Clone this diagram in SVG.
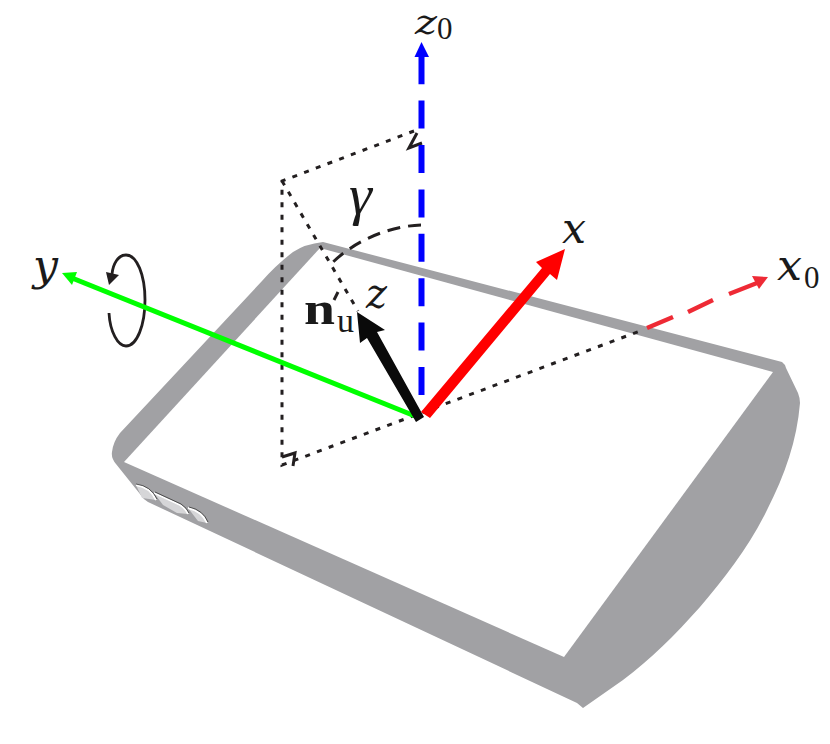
<svg xmlns="http://www.w3.org/2000/svg" width="830" height="744" viewBox="0 0 830 744">
<style>
.dot{fill:none;stroke:#231f20;stroke-width:3;stroke-dasharray:5 7.500}
.dash{fill:none;stroke:#231f20;stroke-width:3;stroke-dasharray:13 8}
.solid{fill:none;stroke:#231f20;stroke-width:3}
.btn{fill:#d6d6d8;stroke:none}
.btnw{fill:none;stroke:#fff;stroke-width:1.800}
.btnl{fill:none;stroke:#333;stroke-width:0.800}
text{font-family:"Liberation Serif","Times New Roman",serif;fill:#1a1a1a}
.m{font-family:"DejaVu Serif","Liberation Serif",serif;font-style:italic;font-weight:normal;font-size:42px}
.s{font-size:31px}
</style>
<rect width="830" height="744" fill="#fff"/>
<g id="device">
<path fill="#a1a1a4" d="M323 242 L782 362 Q785 364 786 368 L798 393 Q800 398 800 403 C797 440 785 475 767 510 C750 545 725 578 700 607 C675 635 650 660 623 680 L583 708 L577 703 L148 502 Q143 499 140 494 L116 464 Q111 458 112 452 Q113 442 120 433 L262 281 Q276 265 293 252 Q305 244 323 242 Z"/>
<path fill="#fff" d="M320 248 L773 372 L564 657 L124 462 Z"/>
<path class="btn" d="M136 485 Q150 487 156 500 L142 498 Z"/>
<path class="btn" d="M154 493 L180 505 Q186 509 188 514 L177 513 L163 505 Z"/>
<path class="btn" d="M188 508 Q202 511 207 523 L198 521 Z"/>
<path class="btnw" d="M136 485 Q150 487 156 500 M154 493 L180 505 Q186 509 188 514 M188 508 Q202 511 207 523"/>
<path class="btnl" d="M136 484 Q151 486 157 499 M155 492 L181 504 Q187 508 189 513 M189 507 Q203 510 208 522"/>
</g>
<g id="connectors">
<path class="dot" d="M414 131 L282 181 L282 465 L640 331"/>
<path class="dot" d="M282 181 L358 311"/>
<path class="solid" d="M417 133 L409 148 L422 143"/>
<path class="solid" d="M282 457 L295 453 L293 466"/>
<path class="dash" d="M421 225 C390 226 355 240 331 264"/>
<path class="solid" d="M338 292 L334 300"/>
<path d="M421.500 395 V57" fill="none" stroke="#0000ff" stroke-width="6" stroke-dasharray="28 16.400"/>
<path fill="#0000ff" d="M421.500 42 L429 57 L414.500 57 Z"/>
<path fill="none" stroke="#231f20" stroke-width="2.800" d="M109 313 C110 332 118 346 126 346 C137 346 145 325 145 300 C145 275 137 255 126 255 C118 255 113 264 112 274"/>
<path fill="#231f20" d="M109 285 L106 272 L119 275 Z"/>
<path fill="none" stroke="#00ff00" stroke-width="5" d="M415 416 L72 278"/>
<path fill="#00ff00" d="M62 273 L77 272 L72 285 Z"/>
<path fill="#ff0000" d="M421 412 L542 268 L536 262 L565 249 L557 280 L550 274 L430 418 Z"/>
<path fill="#0a0a0a" d="M416 422 L367 338 L360 343 L357 312 L385 330 L377 332 L424 417 Z"/>
<path fill="none" stroke="#ee2a35" stroke-width="4.500" d="M647 328 L673 317 M688 312 L713 300 M729 294 L757 283"/>
<path fill="#ee2a35" d="M768 277 L752 276 L759 289 Z"/>
</g>
<g id="labels">
<text class="m" style="font-size:36px" x="415" y="34" textLength="22" lengthAdjust="spacingAndGlyphs">z</text><text class="s" x="437" y="39">0</text>
<text class="m" x="562" y="243" textLength="24" lengthAdjust="spacingAndGlyphs">x</text>
<text class="m" x="777" y="280" textLength="25" lengthAdjust="spacingAndGlyphs">x</text><text class="s" x="804" y="288">0</text>
<text class="m" x="33" y="280" textLength="25" lengthAdjust="spacingAndGlyphs">y</text>
<text x="349" y="214" style="font-family:'Liberation Serif',serif;font-style:italic;font-size:58px;font-weight:normal">γ</text>
<text x="304" y="324" style="font-weight:bold;font-size:46px" textLength="31" lengthAdjust="spacingAndGlyphs">n</text>
<text x="337" y="332" style="font-size:33px" textLength="17" lengthAdjust="spacingAndGlyphs">u</text>
<text class="m" x="366" y="308" textLength="21" lengthAdjust="spacingAndGlyphs">z</text>
</g>
</svg>
